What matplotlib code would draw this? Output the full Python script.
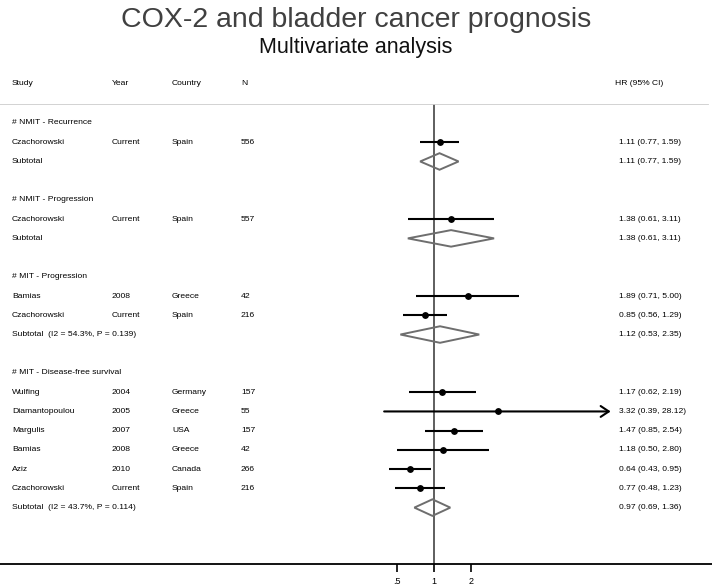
import numpy as np
import matplotlib
matplotlib.use("Agg")
import matplotlib.pyplot as plt
from matplotlib.patches import Polygon
from matplotlib.ticker import FixedLocator, FixedFormatter, NullLocator

plt.rcParams['font.family'] = ['Liberation Sans', 'DejaVu Sans']

# groups
group_names = ["# NMIT - Recurrence", "# NMIT - Progression",
               "# MIT - Progression", "# MIT - Disease-free survival"]
group_sizes = [1, 1, 2, 6]

# studies (in order)
study = ["Czachorowski", "Czachorowski", "Bamias", "Czachorowski",
         "Wulfing", "Diamantopoulou", "Margulis", "Bamias", "Aziz", "Czachorowski"]
year = ["Current", "Current", "2008", "Current",
        "2004", "2005", "2007", "2008", "2010", "Current"]
country = ["Spain", "Spain", "Greece", "Spain",
           "Germany", "Greece", "USA", "Greece", "Canada", "Spain"]
n_pat = [556, 557, 42, 216, 157, 55, 157, 42, 266, 216]
hr = [1.11, 1.38, 1.89, 0.85, 1.17, 3.32, 1.47, 1.18, 0.64, 0.77]
hr_lo = [0.77, 0.61, 0.71, 0.56, 0.62, 0.39, 0.85, 0.50, 0.43, 0.48]
hr_hi = [1.59, 3.11, 5.00, 1.29, 2.19, 28.12, 2.54, 2.80, 0.95, 1.23]

# pooled estimates per group
sub_label = ["Subtotal", "Subtotal", "Subtotal  (I2 = 54.3%, P = 0.139)",
             "Subtotal  (I2 = 43.7%, P = 0.114)"]
sub_hr = [1.11, 1.38, 1.12, 0.97]
sub_lo = [0.77, 0.61, 0.53, 0.69]
sub_hi = [1.59, 3.11, 2.35, 1.36]

x_ticks = [0.5, 1, 2]
x_tick_labels = [".5", "1", "2"]

W, H = 712, 588
fig = plt.figure(figsize=(W / 100, H / 100), dpi=100)
ax = fig.add_axes([0, 24 / H, 1, 460 / H])

px_dec = 36.7 / np.log10(2)
x1px = 434
ax.set_xscale('log')
ax.set_xlim(10 ** (-x1px / px_dec), 10 ** ((W - x1px) / px_dec))
row_h = 19.23
ax.set_ylim((564 - 123) / row_h, (104 - 123) / row_h)

for s in ['left', 'right', 'top']:
    ax.spines[s].set_visible(False)
ax.spines['bottom'].set_linewidth(1.3)
ax.xaxis.set_major_locator(FixedLocator(x_ticks))
ax.xaxis.set_major_formatter(FixedFormatter(x_tick_labels))
ax.xaxis.set_minor_locator(NullLocator())
ax.tick_params(axis='x', direction='out', length=6, width=1.2, labelsize=6.5, pad=3)
ax.set_yticks([])

tf = ax.get_yaxis_transform()  # x in axes fraction, y in data
fs = 6.1
col_study, col_year, col_country, col_n, col_hr = 12 / W, 112 / W, 172 / W, 241 / W, 619 / W

# header row
hy = -2.03
for x, t in [(col_study, "Study"), (col_year, "Year"), (col_country, "Country"),
             (col_n, "N"), (615 / W, "HR (95% CI)")]:
    ax.text(x, hy, t, transform=tf, fontsize=fs, va='center', clip_on=False)

# top separator
ax.axhline((104 - 123) / row_h + 0.02, xmin=0, xmax=708 / W, color='#cfcfcf', lw=1.3)

# reference line
ax.axvline(1, color='#333333', lw=1.1, zorder=1)

diam_h = 0.43
row = 0
i = 0
for g in range(len(group_names)):
    ax.text(col_study, row, group_names[g], transform=tf, fontsize=fs, va='center')
    row += 1
    for _ in range(group_sizes[g]):
        ax.text(col_study, row, study[i], transform=tf, fontsize=fs, va='center')
        ax.text(col_year, row, year[i], transform=tf, fontsize=fs, va='center')
        ax.text(col_country, row, country[i], transform=tf, fontsize=fs, va='center')
        ax.text(col_n, row, str(n_pat[i]), transform=tf, fontsize=fs, va='center')
        ax.text(col_hr, row, f"{hr[i]:.2f} ({hr_lo[i]:.2f}, {hr_hi[i]:.2f})",
                transform=tf, fontsize=fs, va='center')
        if hr_hi[i] > 10:
            ax.annotate('', xy=(hr_hi[i], row), xytext=(hr_lo[i], row),
                        arrowprops=dict(arrowstyle='->,head_length=0.45,head_width=0.3',
                                        lw=1.5, color='black', mutation_scale=13,
                                        shrinkA=0, shrinkB=0), zorder=3)
        else:
            ax.plot([hr_lo[i], hr_hi[i]], [row, row], color='black', lw=1.5,
                    solid_capstyle='butt', zorder=3)
        ax.plot(hr[i], row, 'o', color='black', ms=3.9, zorder=4)
        row += 1
        i += 1
    ax.text(col_study, row, sub_label[g], transform=tf, fontsize=fs, va='center')
    ax.text(col_hr, row, f"{sub_hr[g]:.2f} ({sub_lo[g]:.2f}, {sub_hi[g]:.2f})",
            transform=tf, fontsize=fs, va='center')
    d = Polygon([[sub_lo[g], row], [sub_hr[g], row - diam_h],
                 [sub_hi[g], row], [sub_hr[g], row + diam_h]],
                closed=True, fill=False, edgecolor='#6e6e6e', lw=1.4, zorder=3)
    ax.add_patch(d)
    row += 2

fig.text(0.5, 1 - 20 / H, "COX-2 and bladder cancer prognosis", ha='center',
         va='center', fontsize=20.5, color='#404040')
fig.text(0.5, 1 - 48 / H, "Multivariate analysis", ha='center', va='center',
         fontsize=15.5, color='#111111')

fig.savefig("out.png", dpi=100)
